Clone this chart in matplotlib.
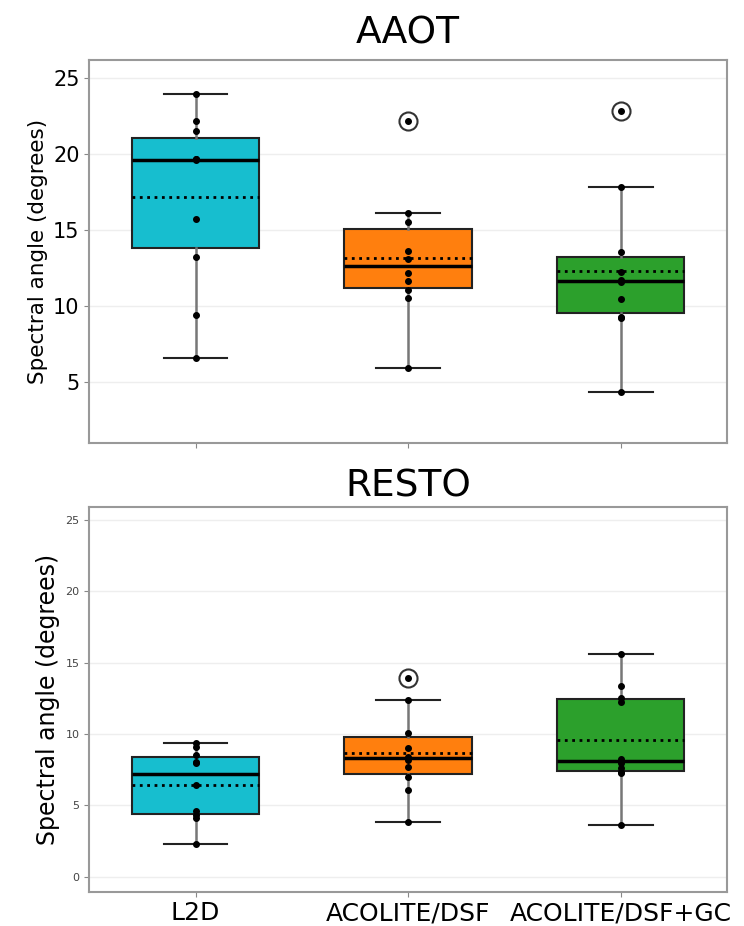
import matplotlib.pyplot as plt
import numpy as np

# Métodos de correção atmosférica e cores de cada caixa
metodos = ['L2D', 'ACOLITE/DSF', 'ACOLITE/DSF+GC']
cores = ['#17becf', '#ff7f0e', '#2ca02c']

# Ângulo espectral (graus) por estação - AAOT
aaot_l2d = [6.54, 9.4, 13.2, 15.7, 19.6, 19.7, 19.7, 21.53, 22.2, 23.95]
aaot_dsf = [5.92, 10.5, 11.04, 11.64, 12.18, 13.07, 13.62, 15.55, 16.1, 22.2]
aaot_dsf_gc = [4.30, 9.18, 9.25, 10.43, 11.55, 11.73, 12.25, 13.57, 17.83, 22.86]

# Ângulo espectral (graus) por estação - RESTO
resto_l2d = [2.27, 4.1, 4.3, 4.6, 6.4, 7.96, 8.06, 8.5, 9.1, 9.35]
resto_dsf = [3.85, 6.08, 7.0, 7.7, 8.2, 8.4, 9.0, 10.08, 12.38, 13.9]
resto_dsf_gc = [3.62, 7.3, 7.36, 7.65, 8.0, 8.22, 12.22, 12.5, 13.38, 15.58]


def desenha_caixas(ax, dados, titulo, yticks, ylim, tam_ticks, tam_label, pad):
    posicoes = [1, 2, 3]
    bp = ax.boxplot(dados, positions=posicoes, widths=0.6, patch_artist=True,
                    showmeans=True, meanline=True,
                    boxprops=dict(edgecolor='#222222', linewidth=1.5),
                    medianprops=dict(color='black', linewidth=2.5),
                    meanprops=dict(color='black', linestyle=':', linewidth=2),
                    whiskerprops=dict(color='#777777', linewidth=1.8),
                    capprops=dict(color='#222222', linewidth=1.5),
                    flierprops=dict(marker='o', markerfacecolor='none',
                                    markeredgecolor='#333333', markersize=13,
                                    markeredgewidth=1.5),
                    zorder=3)
    for caixa, cor in zip(bp['boxes'], cores):
        caixa.set_facecolor(cor)

    # Pontos individuais sobre as caixas
    for pos, valores in zip(posicoes, dados):
        ax.scatter(np.full(len(valores), pos), valores, s=16, c='black',
                   zorder=6)

    ax.set_xlim(0.5, 3.5)
    ax.set_ylim(*ylim)
    ax.set_yticks(yticks)
    ax.tick_params(axis='y', labelsize=tam_ticks, color='#888888')
    ax.tick_params(axis='x', color='#888888')
    ax.set_ylabel('Spectral angle (degrees)', fontsize=tam_label)
    ax.set_title(titulo, fontsize=27, pad=pad)
    ax.grid(axis='y', color='#eeeeee', linewidth=1)
    ax.set_axisbelow(True)
    for spine in ax.spines.values():
        spine.set_color('#999999')
        spine.set_linewidth(1.5)


fig = plt.figure(figsize=(7.44, 9.26), dpi=100)
ax1 = fig.add_axes([0.12, 0.5213, 0.857, 0.4137])
ax2 = fig.add_axes([0.12, 0.037, 0.857, 0.4152])

desenha_caixas(ax1, [aaot_l2d, aaot_dsf, aaot_dsf_gc], 'AAOT',
               [5, 10, 15, 20, 25], (0.94, 26.2), 15, 15.5, 12)
ax1.set_xticks([1, 2, 3])
ax1.set_xticklabels([])

desenha_caixas(ax2, [resto_l2d, resto_dsf, resto_dsf_gc], 'RESTO',
               [0, 5, 10, 15, 20, 25], (-1.05, 25.9), 8, 17, 8)
ax2.set_xticks([1, 2, 3])
ax2.set_xticklabels(metodos, fontsize=18)
ax2.tick_params(axis='y', labelcolor='#444444')

fig.savefig('out.png', dpi=100)
